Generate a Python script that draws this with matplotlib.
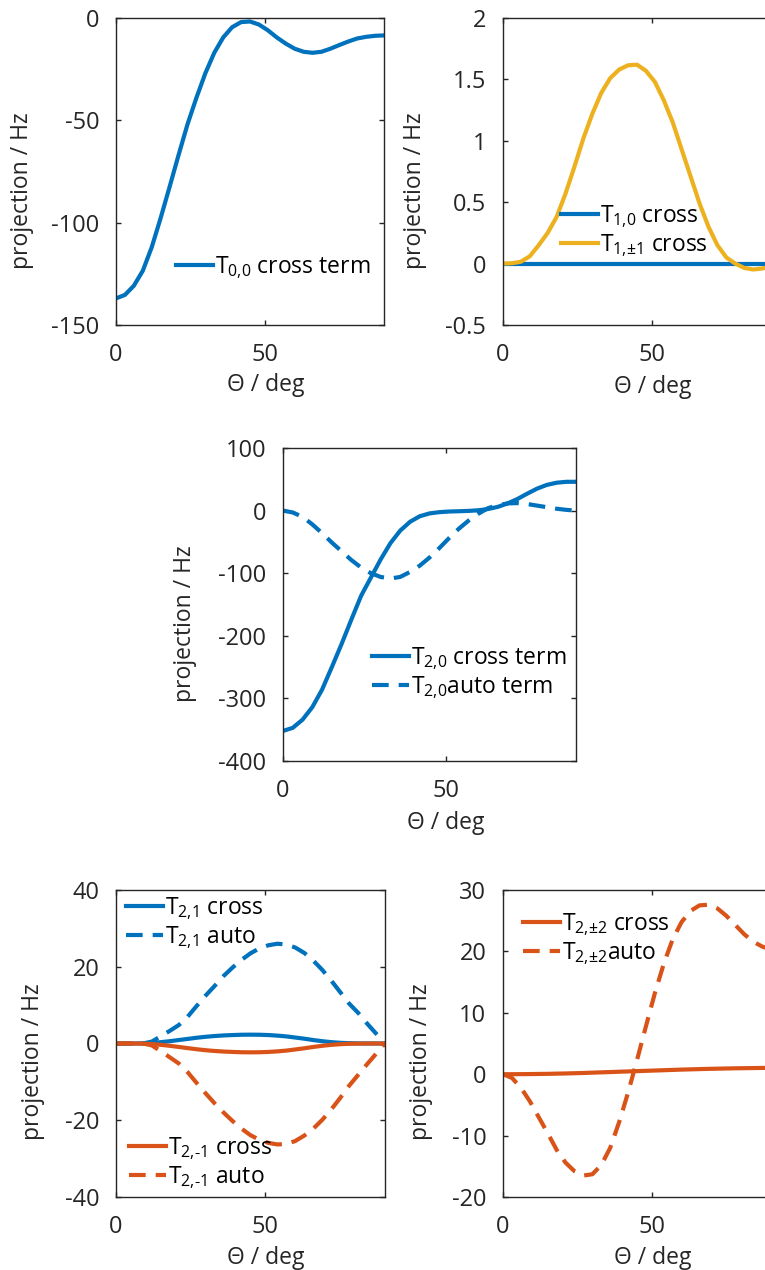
import numpy as np
import matplotlib.pyplot as plt
from matplotlib.ticker import FuncFormatter

plt.rcParams['font.family'] = ['Open Sans', 'DejaVu Sans']
plt.rcParams['mathtext.fontset'] = 'custom'
plt.rcParams['mathtext.rm'] = 'Open Sans'
plt.rcParams['mathtext.it'] = 'Open Sans'
plt.rcParams['axes.unicode_minus'] = False

BLUE = '#0072BD'
ORANGE = '#D95319'
YELLOW = '#EDB120'
DARK = '#262626'

# angle grid, deg
theta = np.arange(0, 91, 3)

# projections in Hz
t00_cross = [-137, -135.3, -130.8, -123.5, -112, -97.7, -82.5, -67, -52, -39,
             -27, -17, -9.5, -4.5, -2, -1.7, -3.2, -6, -9.5, -12.5,
             -15, -16.5, -17, -16.5, -15, -13.2, -11.5, -10, -9.2, -8.7, -8.5]

t10_cross = [0.0] * 31
t11_cross = [0.0, 0.003, 0.015, 0.06, 0.15, 0.25, 0.38, 0.57, 0.79, 1.02,
             1.22, 1.39, 1.51, 1.58, 1.615, 1.62, 1.57, 1.48, 1.33, 1.15,
             0.93, 0.71, 0.49, 0.30, 0.15, 0.05, 0.0, -0.035, -0.048, -0.04, -0.025]

t20_cross = [-352, -347, -334, -314, -286, -250, -213, -174, -136, -107,
             -78, -52, -32, -18, -9, -4.5, -2.5, -1.5, -1, -0.5,
             0.5, 2.5, 6, 11.5, 18.5, 27, 35, 41, 44.5, 46, 46]
t20_auto = [0, -3, -10, -22, -36, -51, -65, -79, -91, -100,
            -106, -108.5, -106, -98, -88, -75, -60, -44, -29, -16,
            -5, 4, 8.5, 11.5, 12, 10.5, 8, 5.5, 3, 1.2, 0]

t21_cross = [0, 0, 0, 0.05, 0.15, 0.35, 0.6, 0.9, 1.2, 1.5,
             1.75, 1.95, 2.1, 2.2, 2.28, 2.3, 2.28, 2.2, 2.05, 1.85,
             1.55, 1.25, 0.9, 0.6, 0.35, 0.18, 0.08, 0.03, 0.01, 0, 0]
t21_auto = [0, 0, 0, 0, 0.5, 1.9, 3.3, 4.8, 7.0, 9.8,
            12.5, 15.0, 17.6, 19.8, 21.8, 23.5, 24.8, 25.6, 26.0, 25.8,
            25.0, 23.6, 21.6, 19.2, 16.4, 13.4, 10.4, 8.0, 5.2, 2.6, 0]
t2m1_cross = [0, 0, 0, -0.05, -0.15, -0.35, -0.6, -0.9, -1.2, -1.5,
              -1.75, -1.95, -2.1, -2.2, -2.28, -2.3, -2.28, -2.2, -2.05, -1.85,
              -1.55, -1.25, -0.9, -0.6, -0.35, -0.18, -0.08, -0.03, -0.01, 0, 0]
t2m1_auto = [0, 0, 0, 0, -0.5, -2.0, -3.6, -5.2, -7.5, -10.3,
             -13.0, -15.6, -18.0, -20.2, -22.2, -23.9, -25.1, -25.9, -26.3, -26.2,
             -25.4, -24.0, -22.2, -19.9, -17.2, -14.2, -11.0, -8.2, -5.4, -2.7, 0]

t22_cross = [0, 0, 0.01, 0.02, 0.04, 0.06, 0.09, 0.12, 0.16, 0.2,
             0.25, 0.3, 0.35, 0.4, 0.45, 0.5, 0.55, 0.6, 0.65, 0.7,
             0.75, 0.79, 0.83, 0.87, 0.9, 0.93, 0.96, 0.98, 1.0, 1.02, 1.03]
t22_auto = [0, -0.6, -2.2, -4.4, -7.0, -9.6, -12.3, -14.4, -15.8, -16.5,
            -16.3, -14.8, -12.0, -7.8, -3.0, 2.3, 7.8, 13.2, 18.0, 22.0,
            24.8, 26.6, 27.5, 27.6, 27.0, 25.8, 24.3, 22.8, 21.6, 20.8, 20.3]

W, H = 765, 1270
FS_TICK = 17
FS = 16.5
LW = 3
DASH = (0, (4.0, 2.4))

fig = plt.figure(figsize=(W / 100, H / 100), dpi=100)
fig.patch.set_facecolor('white')


def fpos(x, y):
    return (x / W, 1 - y / H)


def make_axes(l, t, r, b, yticks, ylim, xlab, ylab):
    ax = fig.add_axes([l / W, 1 - b / H, (r - l) / W, (b - t) / H])
    ax.set_xlim(0, 90)
    ax.set_ylim(*ylim)
    ax.set_xticks([0, 50])
    ax.set_yticks(yticks)
    ax.yaxis.set_major_formatter(FuncFormatter(lambda v, p: '%g' % v))
    ax.tick_params(direction='in', top=True, right=True, length=3.5, width=1,
                   color=DARK, labelcolor=DARK, labelsize=FS_TICK)
    ax.tick_params(axis='x', pad=13)
    ax.tick_params(axis='y', pad=12)
    for s in ax.spines.values():
        s.set_color(DARK)
        s.set_linewidth(1)
    ax.set_xlabel('\u0398 / deg', fontsize=FS, color=DARK)
    ax.set_ylabel('projection / Hz', fontsize=FS, color=DARK)
    ax.xaxis.set_label_coords(*fpos(*xlab), transform=fig.transFigure)
    ax.yaxis.set_label_coords(*fpos(*ylab), transform=fig.transFigure)
    return ax


def add_legend(ax, handles, labels, x, y):
    leg = ax.legend(handles, labels, loc='center left',
                    bbox_to_anchor=fpos(x, y), bbox_transform=fig.transFigure,
                    frameon=False, fontsize=FS, borderpad=0, borderaxespad=0,
                    handlelength=1.6, handletextpad=0.12, labelspacing=0.12)
    for t in leg.get_texts():
        t.set_color('black')
    return leg


# T0,0
ax = make_axes(116, 18, 384, 325, [-150, -100, -50, 0], (-150, 0),
               (266, 373), (34, 191))
l1, = ax.plot(theta, t00_cross, color=BLUE, lw=LW)
add_legend(ax, [l1], [r'T$_{0{,}0}$ cross term'], 176, 268)

# T1,0 and T1,+-1
ax = make_axes(503, 18, 771, 325, [-0.5, 0, 0.5, 1, 1.5, 2], (-0.5, 2),
               (653, 375), (427, 191))
l1, = ax.plot(theta, t10_cross, color=BLUE, lw=LW)
l2, = ax.plot(theta, t11_cross, color=YELLOW, lw=LW)
add_legend(ax, [l1, l2], [r'T$_{1{,}0}$ cross', r'T$_{1{,}±1}$ cross'], 561, 231)

# T2,0
ax = make_axes(283, 448, 576, 761, [-400, -300, -200, -100, 0, 100], (-400, 100),
               (446, 811), (197, 624))
l1, = ax.plot(theta, t20_cross, color=BLUE, lw=LW)
l2, = ax.plot(theta, t20_auto, color=BLUE, lw=LW, ls=DASH)
add_legend(ax, [l1, l2], [r'T$_{2{,}0}$ cross term', r'T$_{2{,}0}$auto term'], 372, 673)

# T2,1 and T2,-1
ax = make_axes(116, 890, 385, 1197, [-40, -20, 0, 20, 40], (-40, 40),
               (266, 1246), (45, 1062))
b1, = ax.plot(theta, t21_cross, color=BLUE, lw=LW)
b2, = ax.plot(theta, t21_auto, color=BLUE, lw=LW, ls=DASH)
r1, = ax.plot(theta, t2m1_cross, color=ORANGE, lw=LW)
r2, = ax.plot(theta, t2m1_auto, color=ORANGE, lw=LW, ls=DASH)
leg = add_legend(ax, [b1, b2], [r'T$_{2{,}1}$ cross', r'T$_{2{,}1}$ auto'], 126, 923)
ax.add_artist(leg)
add_legend(ax, [r1, r2], ['T$_{2{,}\u20101}$ cross', 'T$_{2{,}\u20101}$ auto'], 129, 1163)

# T2,+-2
ax = make_axes(503, 890, 771, 1197, [-20, -10, 0, 10, 20, 30], (-20, 30),
               (653, 1246), (433, 1062))
r1, = ax.plot(theta, t22_cross, color=ORANGE, lw=LW)
r2, = ax.plot(theta, t22_auto, color=ORANGE, lw=LW, ls=DASH)
add_legend(ax, [r1, r2], [r'T$_{2{,}±2}$ cross', r'T$_{2{,}±2}$auto'], 523, 939)

fig.savefig('out.png', dpi=100)
